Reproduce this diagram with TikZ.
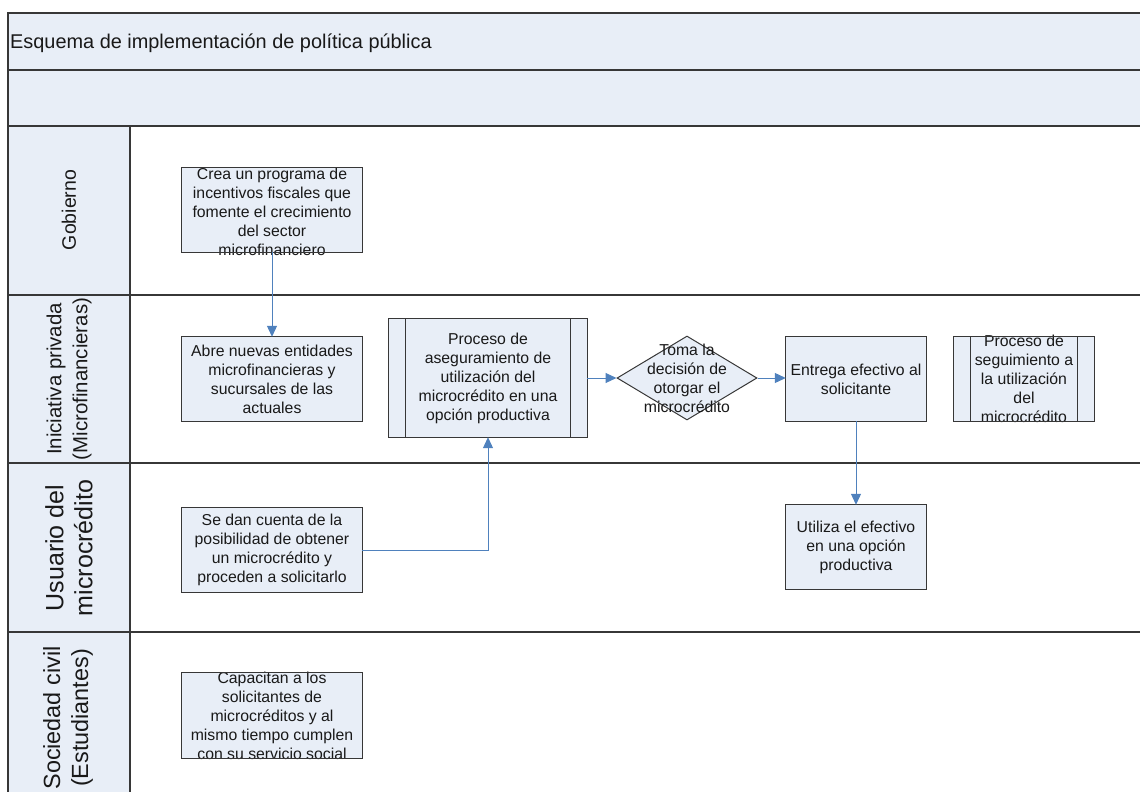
\documentclass[tikz,border=0pt]{standalone}
\usepackage{fontspec}
\setmainfont{Liberation Sans}
\usetikzlibrary{shapes.geometric,arrows.meta}
\definecolor{paneblue}{RGB}{232,238,247}
\definecolor{flowblue}{RGB}{79,129,189}
\definecolor{edgegray}{RGB}{55,55,55}
\definecolor{inkgray}{RGB}{25,25,25}
\begin{document}
\begin{tikzpicture}[x=1pt,y=-1pt,
  boxfill/.style={fill=paneblue, draw=none, inner sep=0pt},
  boxtext/.style={font=\fontsize{15.8}{19}\selectfont, align=center, inner sep=0pt, text=inkgray},
  boxline/.style={draw=edgegray, line width=1pt},
  laneline/.style={draw=edgegray, line width=1.4pt},
  lanelabel/.style={rotate=90, align=center, inner sep=0pt, text=inkgray},
  flow/.style={draw=flowblue, line width=1pt, -{Triangle[length=11pt,width=10pt]}}]
\useasboundingbox (0,0) rectangle (1140,792);
\clip (0,0) rectangle (1140,792);
% pool frame
\fill[paneblue] (8,13) rectangle (1160,126);
\fill[paneblue] (8,126) rectangle (130,820);
\draw[laneline] (8,820) -- (8,13) -- (1160,13);
\draw[laneline] (8,70) -- (1160,70);
\draw[laneline] (8,126) -- (1160,126);
\draw[laneline] (8,295) -- (1160,295);
\draw[laneline] (8,463) -- (1160,463);
\draw[laneline] (8,632) -- (1160,632);
\draw[laneline] (130,126) -- (130,820);
\node[anchor=west, inner sep=0pt, font=\fontsize{19.9}{23}\selectfont, text=inkgray] (title) at (10,43) {Esquema de implementación de política pública};
% lane labels
\node[lanelabel, font=\fontsize{19.5}{24}\selectfont] (lgob) at (69,210) {Gobierno};
\node[lanelabel, font=\fontsize{20.4}{26}\selectfont] (lini) at (69,379) {Iniciativa privada\\(Microfinancieras)};
\node[lanelabel, font=\fontsize{25}{29}\selectfont] (lusu) at (69,548) {Usuario del\\microcrédito};
\node[lanelabel, font=\fontsize{23.4}{28}\selectfont] (lsoc) at (68,718) {Sociedad civil\\(Estudiantes)};
% boxes (fill)
\node[boxfill, minimum width=180pt, minimum height=84pt] (crea) at (272,210) {};
\node[boxfill, minimum width=180pt, minimum height=84pt] (abre) at (272,379) {};
\node[boxfill, minimum width=198pt, minimum height=118pt] (aseg) at (488,378) {};
\node[boxfill, shape=diamond, minimum width=140pt, minimum height=84pt, draw=edgegray, line width=1pt] (toma) at (687,378) {};
\node[boxfill, minimum width=140pt, minimum height=84pt] (entrega) at (856,379) {};
\node[boxfill, minimum width=140pt, minimum height=84pt] (segui) at (1024,379) {};
\node[boxfill, minimum width=180pt, minimum height=84pt] (sedan) at (272,550) {};
\node[boxfill, minimum width=140pt, minimum height=84pt] (utiliza) at (856,547) {};
\node[boxfill, minimum width=180pt, minimum height=85pt] (capa) at (272,715.5) {};
% texts
\node[boxtext] (creaT) at (272,212) {Crea un programa de\\incentivos fiscales que\\fomente el crecimiento\\del sector\\microfinanciero};
\node[boxtext] (abreT) at (abre) {Abre nuevas entidades\\microfinancieras y\\sucursales de las\\actuales};
\node[boxtext] (asegT) at (aseg) {Proceso de\\aseguramiento de\\utilización del\\microcrédito en una\\opción productiva};
\node[boxtext] (tomaT) at (toma) {Toma la\\decisión de\\otorgar el\\microcrédito};
\node[boxtext] (entregaT) at (entrega) {Entrega efectivo al\\solicitante};
\node[boxtext] (seguiT) at (1024,379) {Proceso de\\seguimiento a\\la utilización\\del\\microcrédito};
\node[boxtext] (sedanT) at (sedan) {Se dan cuenta de la\\posibilidad de obtener\\un microcrédito y\\proceden a solicitarlo};
\node[boxtext] (utilizaT) at (utiliza) {Utiliza el efectivo\\en una opción\\productiva};
\node[boxtext] (capaT) at (272,716) {Capacitan a los\\solicitantes de\\microcréditos y al\\mismo tiempo cumplen\\con su servicio social};
% borders on top
\foreach \b in {crea,abre,aseg,entrega,segui,sedan,utiliza,capa}
  \draw[boxline] (\b.south west) rectangle (\b.north east);
\draw[boxline] ([xshift=17pt]aseg.north west) -- ([xshift=17pt]aseg.south west);
\draw[boxline] ([xshift=-17pt]aseg.north east) -- ([xshift=-17pt]aseg.south east);
\draw[boxline] ([xshift=17pt]segui.north west) -- ([xshift=17pt]segui.south west);
\draw[boxline] ([xshift=-17pt]segui.north east) -- ([xshift=-17pt]segui.south east);
% connectors
\draw[flow] (crea.south) -- (abre.north);
\draw[flow] (sedan.east) -| (aseg.south);
\draw[flow] (aseg.east) -- (toma.west);
\draw[flow] (toma.east) -- (toma.east -| entrega.west);
\draw[flow] (entrega.south) -- (utiliza.north);
\end{tikzpicture}
\end{document}
